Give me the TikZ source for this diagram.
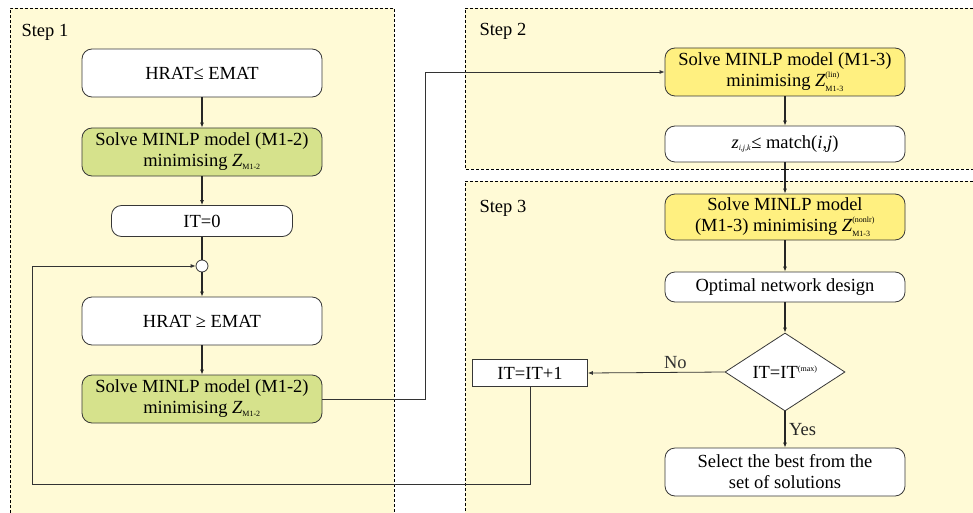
\documentclass[tikz,border=0pt]{standalone}
\usepackage{fontspec}
\setmainfont{Liberation Serif}
\usetikzlibrary{arrows.meta, positioning, shapes.geometric}
\definecolor{panelyellow}{RGB}{255,250,214}
\definecolor{boxgreen}{RGB}{214,226,140}
\definecolor{boxyellow}{RGB}{255,240,128}
\definecolor{edgegray}{RGB}{55,55,55}
\newcommand{\smallidx}[1]{\hbox{\fontsize{8}{9}\selectfont #1}}
\newcommand{\Zlow}[1]{$\textit{Z}_{\smallidx{#1}}$}
\newcommand{\Zboth}[2]{$\textit{Z}^{\raisebox{1.5pt}{\smallidx{#1}}}_{\raisebox{-1pt}{\smallidx{#2}}}$}

\begin{document}
\begin{tikzpicture}[x=1pt, y=-1pt,
    every node/.style={font=\fontsize{18.5}{21}\selectfont},
    block/.style={draw=edgegray, line width=0.8pt, rounded corners=10pt, fill=white,
                  minimum width=240pt, minimum height=48pt, align=center, inner sep=2pt},
    greenblock/.style={block, fill=boxgreen},
    yellowblock/.style={block, fill=boxyellow},
    flow/.style={-{Latex[length=5pt,width=4pt]}, line width=1.4pt, black!85},
    link/.style={-{Latex[length=5pt,width=4pt]}, line width=0.8pt, black!80},
    panel/.style={line width=0.6pt, dash pattern=on 3pt off 2pt}
]
    \useasboundingbox (0,0) rectangle (973,513);

    % Panels
    \fill[panelyellow] (10,8) rectangle (394,513);
    \draw[panel] (10,513) -- (10,8) -- (394,8) -- (394,513);
    \fill[panelyellow] (465,8) rectangle (973,169);
    \draw[panel] (973,8) -- (465,8) -- (465,169) -- (973,169);
    \fill[panelyellow] (465,181) rectangle (973,513);
    \draw[panel] (973,181) -- (465,181) -- (465,513);
    \node[anchor=west] (stepone) at (18,32) {Step 1};
    \node[anchor=west] (steptwo) at (476,31) {Step 2};
    \node[anchor=west] (stepthree) at (476,208) {Step 3};

    % Step 1
    \node[block] (hratle) at (202,73) {HRAT≤ EMAT};
    \node[greenblock] (solvea) at (202,152) {Solve MINLP model (M1-2)\\minimising \Zlow{M1-2}};
    \node[block, minimum width=181pt, minimum height=31pt] (itzero) at (202,221) {IT=0};
    \node[circle, draw=edgegray, line width=0.8pt, fill=white, minimum size=12pt, inner sep=0pt] (junc) at (202,266) {};
    \node[block] (hratge) at (202,321) {HRAT ≥ EMAT};
    \node[greenblock] (solveb) at (202,399) {Solve MINLP model (M1-2)\\minimising \Zlow{M1-2}};

    % Step 2
    \node[yellowblock] (solvelin) at (785,72) {Solve MINLP model (M1-3)\\minimising \Zboth{(lin)}{M1-3}};
    \node[block, minimum height=36pt] (zmatch) at (785,144) {$\textit{z}_{\smallidx{\itshape i,j,k}}$≤ match(\textit{i},\textit{j})};

    % Step 3
    \node[yellowblock, minimum height=46pt] (solvenl) at (785,217) {Solve MINLP model\\(M1-3) minimising \Zboth{(nonlr)}{M1-3}};
    \node[block, minimum height=30pt] (optnet) at (785,287) {Optimal network design};
    \node[diamond, draw=edgegray, line width=0.8pt, fill=white, aspect=1.54, inner sep=0pt,
          minimum width=120pt, minimum height=78pt] (itcheck) at (785,372) {IT=IT$^{\smallidx{(max)}}$};
    \node[draw=edgegray, line width=0.8pt, fill=white, minimum width=115pt, minimum height=27pt] (itinc) at (530,373) {IT=IT+1};
    \node[block] (select) at (785,472) {Select the best from the\\set of solutions};

    % Connectors
    \draw[flow] (hratle) -- (solvea);
    \draw[flow] (solvea) -- (itzero);
    \draw[line width=1.4pt, black!85] (itzero) -- (junc);
    \draw[flow] (junc) -- (hratge);
    \draw[flow] (hratge) -- (solveb);
    \coordinate (rise) at (425,399);
    \draw[link] (solveb.east) -- (rise) |- (solvelin.west);
    \draw[flow] (solvelin) -- (zmatch);
    \draw[flow] (zmatch) -- (solvenl);
    \draw[flow] (solvenl) -- (optnet);
    \draw[flow] (optnet) -- (itcheck);
    \draw[flow] (itcheck) -- node[right] {Yes} (select);
    \draw[link] (itcheck.west) -- node[above, pos=0.36] {No} (itinc.east);
    \coordinate (loopcorner) at (32,484);
    \draw[link] (itinc.south) |- (loopcorner) |- (junc.west);
\end{tikzpicture}
\end{document}
